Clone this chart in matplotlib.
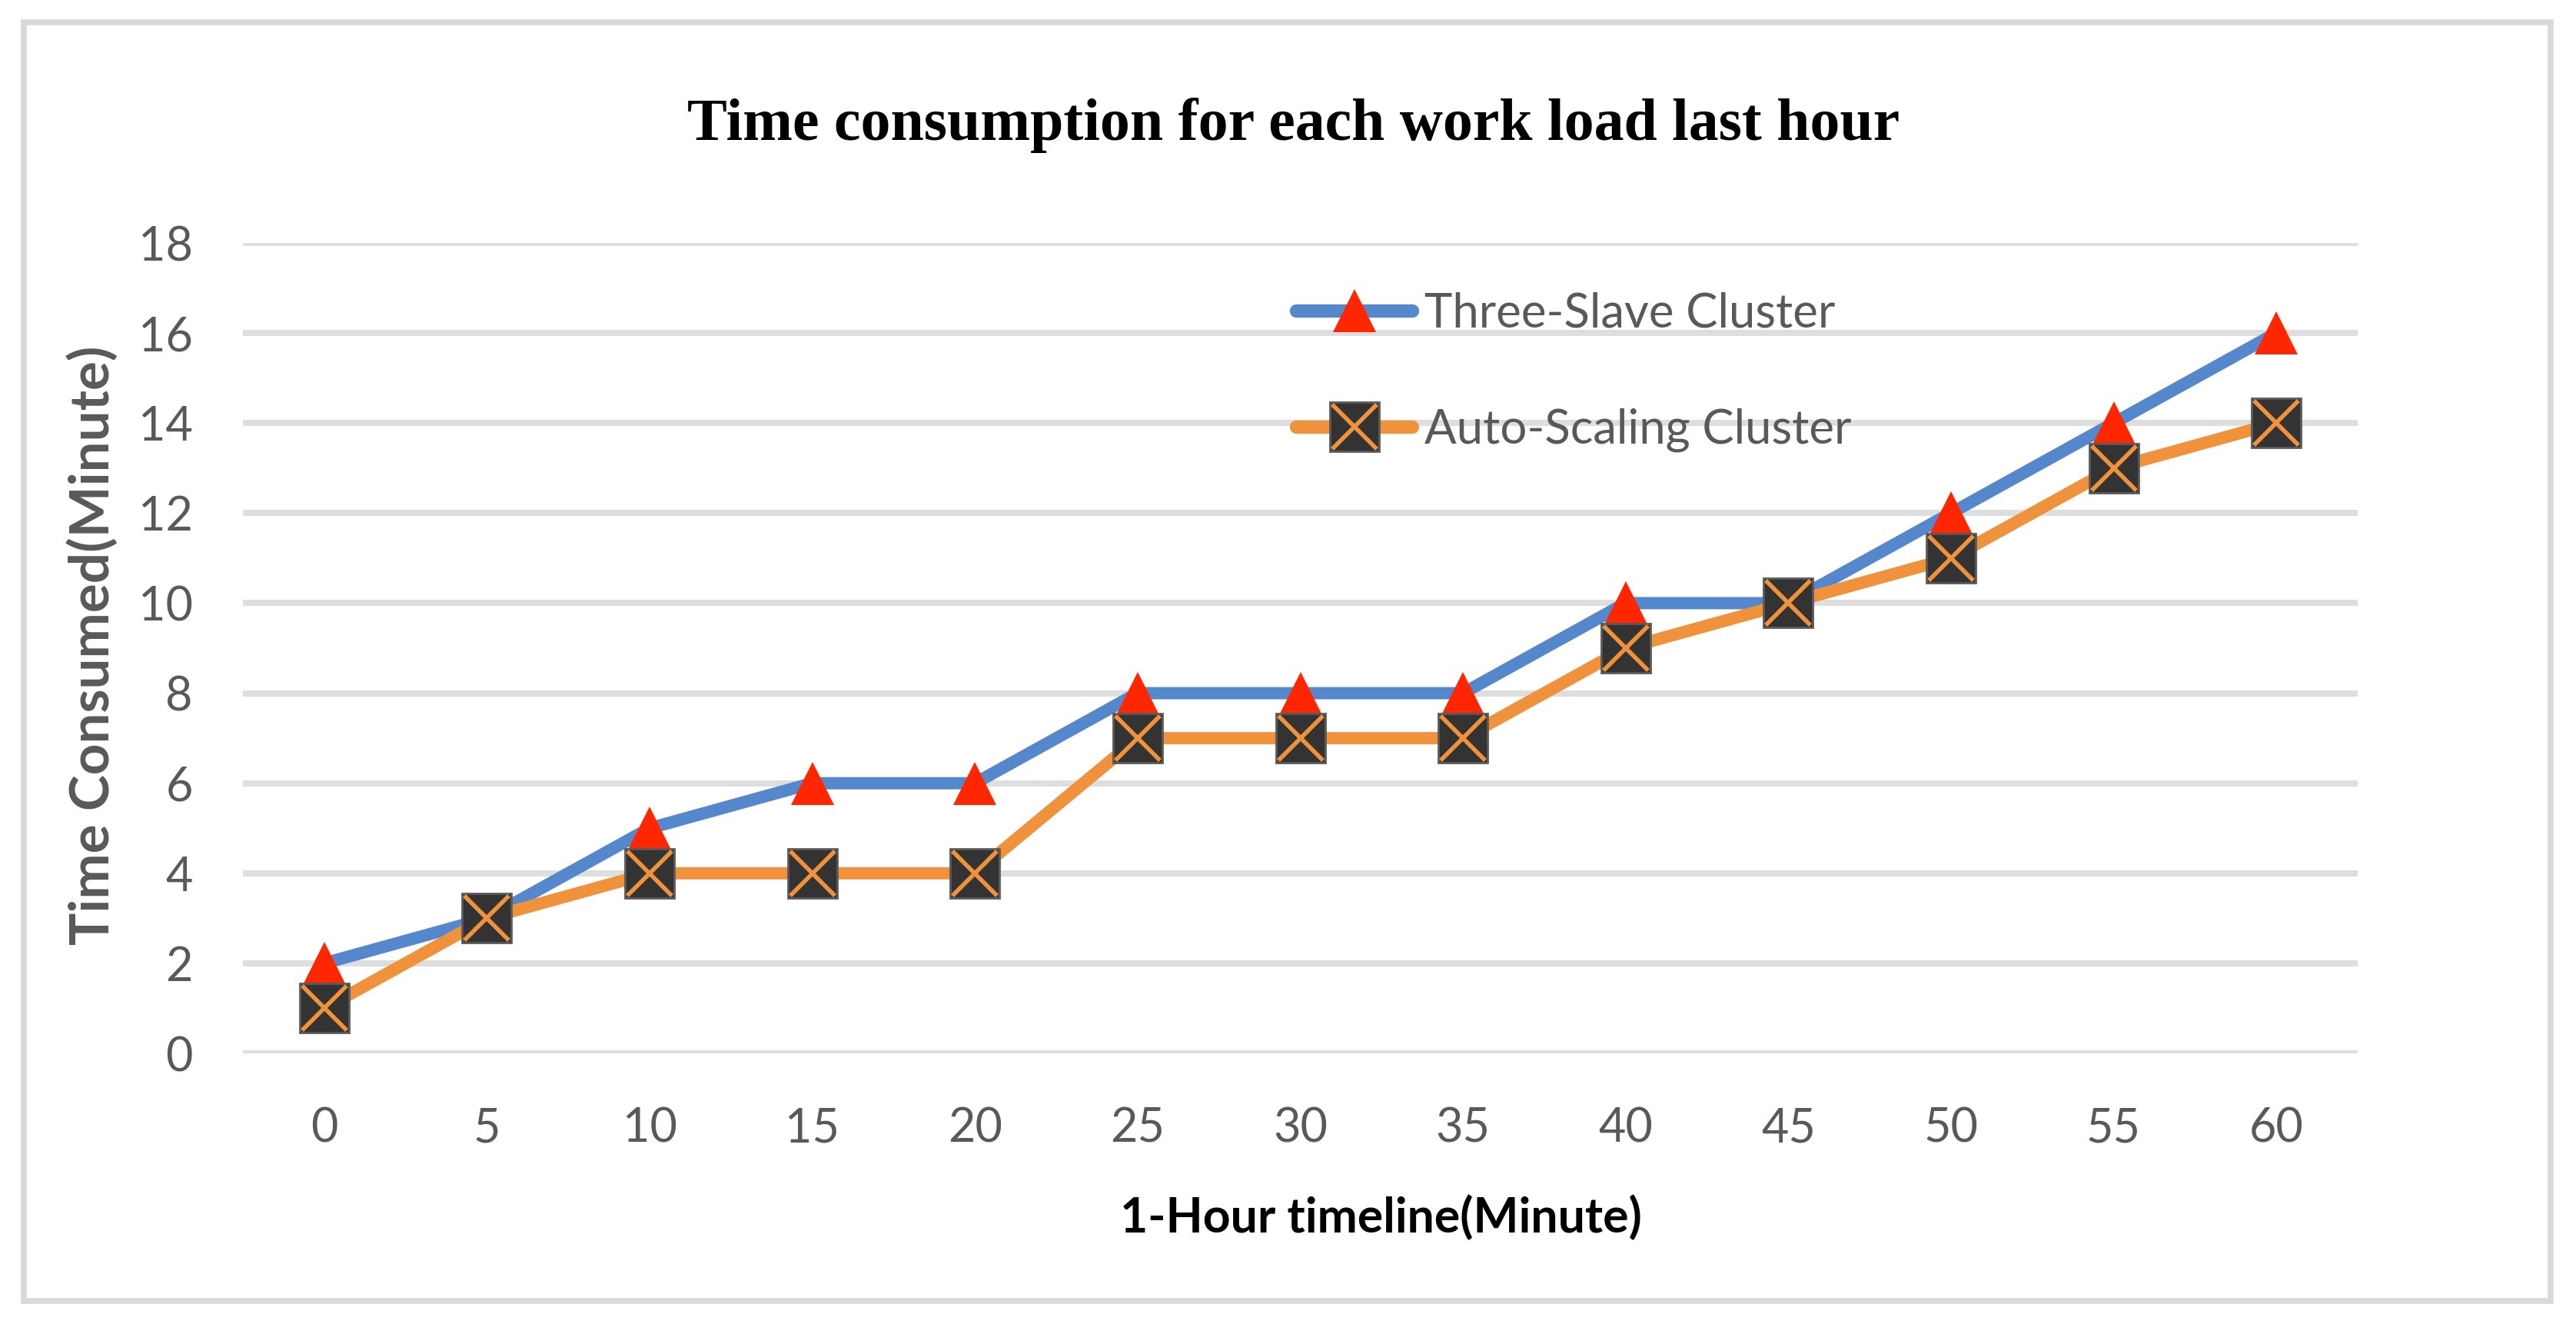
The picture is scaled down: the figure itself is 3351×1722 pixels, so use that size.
import matplotlib.pyplot as plt
from matplotlib.lines import Line2D
from matplotlib.patches import Rectangle

minutes = ['0', '5', '10', '15', '20', '25', '30', '35', '40', '45', '50', '55', '60']
three_slave = [2, 3, 5, 6, 6, 8, 8, 8, 10, 10, 12, 14, 16]
auto_scaling = [1, 3, 4, 4, 4, 7, 7, 7, 9, 10, 11, 13, 14]
y_ticks = [0, 2, 4, 6, 8, 10, 12, 14, 16, 18]

W, H = 3351, 1722
blue = '#5587CC'
orange = '#F0913C'
red = '#FF2600'
grey_txt = '#595959'
grid_col = '#DEDEDE'

plt.rcParams['font.family'] = ['Lato', 'DejaVu Sans']

fig = plt.figure(figsize=(W / 100, H / 100), dpi=100)
ax = fig.add_axes([316 / W, 1 - 1370 / H, (3067 - 316) / W, (1370 - 316) / H])

x = list(range(len(minutes)))

ax.plot(x, three_slave, color=blue, lw=11.5, solid_capstyle='round', zorder=3,
        marker='^', ms=41, mfc=red, mec=red, mew=0)
ax.plot(x, auto_scaling, color=orange, lw=11.5, solid_capstyle='round', zorder=4,
        marker='s', ms=46, mfc='#333333', mec='#5a5a5a', mew=2)
ax.plot(x, auto_scaling, ls='none', marker='x', ms=42, mec=orange, mew=4, zorder=5)

ax.set_xlim(-0.5, len(minutes) - 0.5)
ax.set_ylim(0, 18)
ax.set_xticks(x)
ax.set_xticklabels(minutes)
ax.set_yticks(y_ticks)
ax.tick_params(axis='both', length=0, labelsize=44, labelcolor=grey_txt)
ax.tick_params(axis='y', pad=47)
ax.tick_params(axis='x', pad=50)
ax.grid(axis='y', color=grid_col, lw=5.8, zorder=0)
ax.set_axisbelow(True)
for s in ax.spines.values():
    s.set_visible(False)

# titles / labels
fig.text(1683 / W, 1 - 182 / H, 'Time consumption for each work load last hour',
         family=['Liberation Serif'], weight='bold', fontsize=56, ha='center', va='baseline')
fig.text(120 / W, 1 - 839 / H, 'Time Consumed(Minute)', rotation=90, weight='bold',
         fontsize=51, color=grey_txt, ha='center', va='center')
fig.text(1796 / W, 1 - 1603 / H, '1-Hour timeline(Minute)', weight='bold',
         fontsize=45, color='black', ha='center', va='baseline')

# legend (square + x overlaid on one line)
h1 = Line2D([], [], color=blue, lw=12.5, solid_capstyle='round',
            marker='^', ms=41, mfc=red, mec=red, mew=0)
h2a = Line2D([], [], color=orange, lw=12.5, solid_capstyle='round',
             marker='s', ms=46, mfc='#333333', mec='#5a5a5a', mew=2)
h2b = Line2D([], [], ls='none', marker='x', ms=42, mec=orange, mew=4)
fig.legend([h1, (h2a, h2b)], ['Three-Slave Cluster', 'Auto-Scaling Cluster'],
           loc='center left', bbox_to_anchor=(1686 / W, 1 - 484 / H),
           frameon=False, fontsize=44.5, labelcolor=grey_txt, numpoints=1,
           handlelength=2.45, handletextpad=0.25, labelspacing=1.52,
           borderpad=0, borderaxespad=0)

# outer chart border
fig.patches.append(Rectangle((30.5 / W, 1 - 1692 / H), (3318 - 30.5) / W, (1692 - 29) / H,
                             transform=fig.transFigure, fill=False,
                             edgecolor='#D9D9D9', lw=5.5))

fig.savefig('out.png', dpi=100)
